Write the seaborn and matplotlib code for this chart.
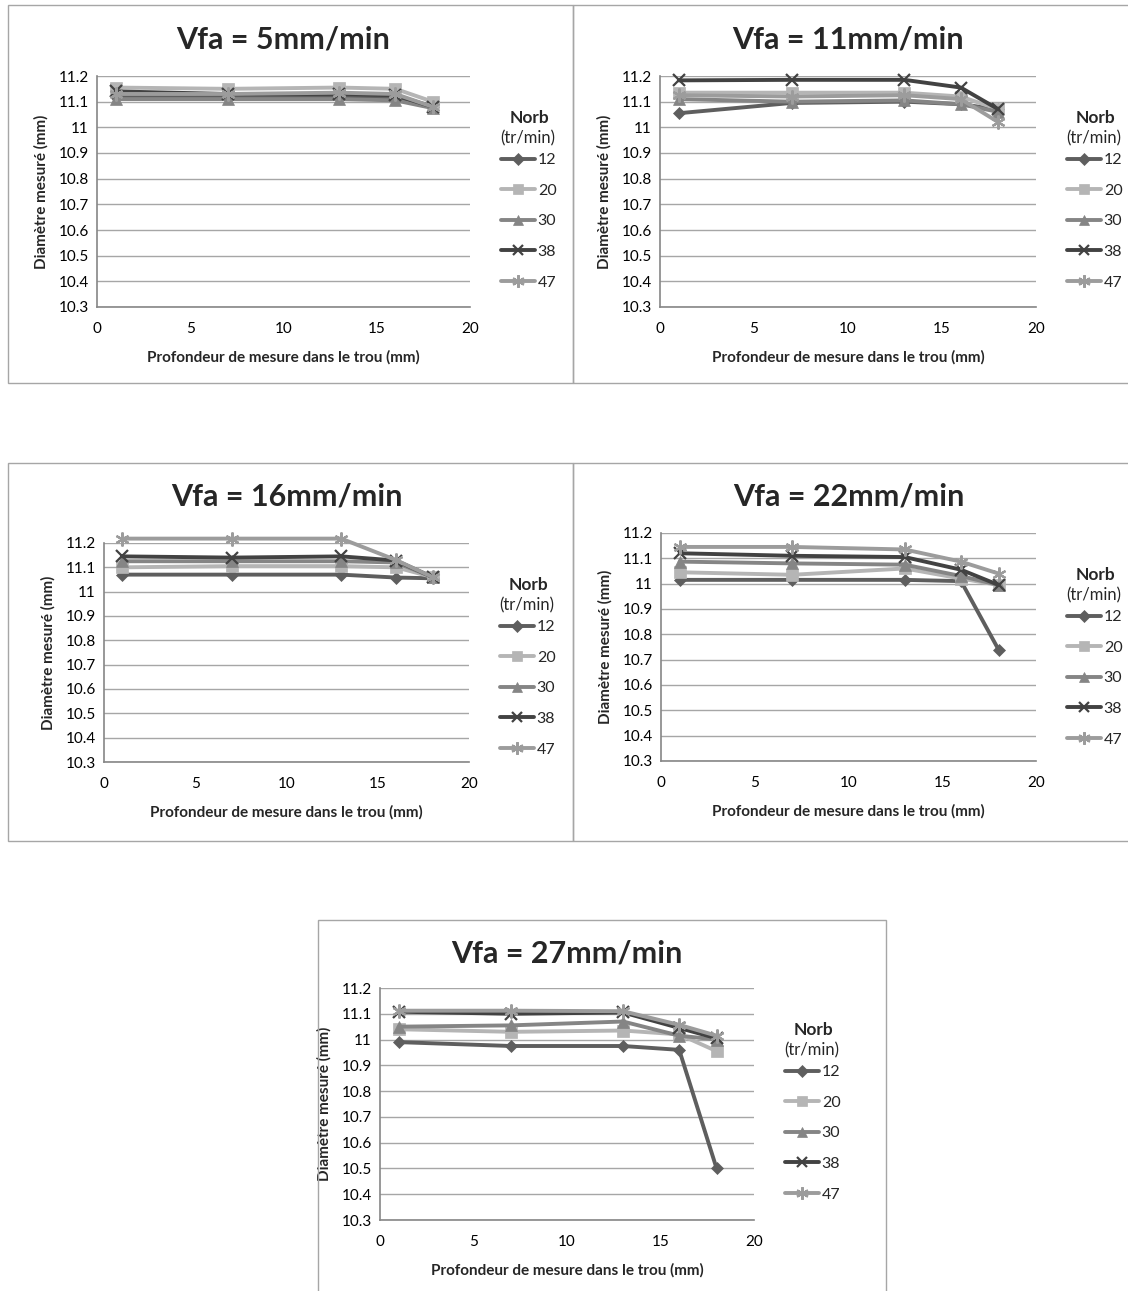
import matplotlib
matplotlib.use("Agg")
import matplotlib.pyplot as plt
import seaborn as sns
import pandas as pd
from matplotlib.patches import Rectangle

# ---------------- data ----------------
depth = [1, 7, 13, 16, 18]
norb_levels = ["12", "20", "30", "38", "47"]
titles = ["Vfa = 5mm/min", "Vfa = 11mm/min", "Vfa = 16mm/min",
          "Vfa = 22mm/min", "Vfa = 27mm/min"]
x_label = "Profondeur de mesure dans le trou (mm)"
y_label = "Diamètre mesuré (mm)"
legend_title_1 = "Norb"
legend_title_2 = "(tr/min)"
x_ticks = [0, 5, 10, 15, 20]
y_ticks = [10.3, 10.4, 10.5, 10.6, 10.7, 10.8, 10.9, 11.0, 11.1, 11.2]
y_tick_labels = ["10.3", "10.4", "10.5", "10.6", "10.7", "10.8", "10.9", "11", "11.1", "11.2"]

# Vfa = 5
v05_n12 = [11.12, 11.12, 11.12, 11.115, 11.08]
v05_n20 = [11.155, 11.15, 11.155, 11.15, 11.10]
v05_n30 = [11.11, 11.11, 11.11, 11.105, 11.075]
v05_n38 = [11.14, 11.13, 11.13, 11.125, 11.08]
v05_n47 = [11.13, 11.13, 11.135, 11.13, 11.08]
# Vfa = 11
v11_n12 = [11.055, 11.095, 11.10, 11.09, 11.07]
v11_n20 = [11.135, 11.135, 11.135, 11.12, 11.07]
v11_n30 = [11.11, 11.10, 11.105, 11.09, 11.06]
v11_n38 = [11.183, 11.185, 11.185, 11.155, 11.07]
v11_n47 = [11.125, 11.12, 11.125, 11.11, 11.02]
# Vfa = 16
v16_n12 = [11.07, 11.07, 11.07, 11.058, 11.055]
v16_n20 = [11.10, 11.105, 11.105, 11.10, 11.06]
v16_n30 = [11.125, 11.125, 11.125, 11.12, 11.06]
v16_n38 = [11.145, 11.14, 11.145, 11.128, 11.06]
v16_n47 = [11.218, 11.218, 11.218, 11.13, 11.06]
# Vfa = 22
v22_n12 = [11.015, 11.015, 11.015, 11.01, 10.74]
v22_n20 = [11.045, 11.035, 11.06, 11.02, 10.995]
v22_n30 = [11.087, 11.08, 11.075, 11.03, 10.995]
v22_n38 = [11.12, 11.11, 11.105, 11.055, 10.995]
v22_n47 = [11.145, 11.145, 11.135, 11.087, 11.04]
# Vfa = 27
v27_n12 = [10.99, 10.975, 10.975, 10.96, 10.50]
v27_n20 = [11.04, 11.03, 11.035, 11.02, 10.955]
v27_n30 = [11.05, 11.055, 11.07, 11.015, 11.0]
v27_n38 = [11.108, 11.10, 11.105, 11.045, 11.005]
v27_n47 = [11.112, 11.112, 11.11, 11.057, 11.015]

panels = [
    [v05_n12, v05_n20, v05_n30, v05_n38, v05_n47],
    [v11_n12, v11_n20, v11_n30, v11_n38, v11_n47],
    [v16_n12, v16_n20, v16_n30, v16_n38, v16_n47],
    [v22_n12, v22_n20, v22_n30, v22_n38, v22_n47],
    [v27_n12, v27_n20, v27_n30, v27_n38, v27_n47],
]

# ---------------- style ----------------
sns.set_style("white")
plt.rcParams["font.family"] = ["Lato", "DejaVu Sans"]

W, H = 1128, 1291
fig = plt.figure(figsize=(W / 100, H / 100), dpi=100)

colors = {"12": "#5e5e5e", "20": "#b5b5b5", "30": "#858585", "38": "#424242", "47": "#9c9c9c"}
markers = {"12": "D", "20": "s", "30": "^", "38": "x", "47": (6, 2, 0)}
msize = {"12": 6.5, "20": 8, "30": 8, "38": 8.5, "47": 10}

# (box left, box top, box right, box bottom, ax left, ax top, ax right, ax bottom)
layout = [
    (8, 5, 573, 383, 97, 76, 470, 307),
    (573, 5, 1132, 383, 660, 76, 1036, 307),
    (8, 463, 573, 841, 104, 543, 469, 762),
    (573, 463, 1132, 841, 661, 533, 1036, 761),
    (318, 920, 886, 1296, 380, 988, 754, 1220),
]


def frect(l, t, r, b):
    return [l / W, 1 - b / H, (r - l) / W, (b - t) / H]


def mew(lvl):
    return 1.6 if lvl in ("38", "47") else 0.5


for idx, (series, lay) in enumerate(zip(panels, layout)):
    bl, bt, br, bb, al, at, ar, ab = lay
    fig.add_artist(Rectangle((bl / W, 1 - bb / H), (br - bl) / W, (bb - bt) / H,
                             transform=fig.transFigure, fill=False,
                             edgecolor="#a6a6a6", lw=1.0))
    ax = fig.add_axes(frect(al, at, ar, ab))
    for lvl, vals in zip(norb_levels, series):
        df = pd.DataFrame({"depth": depth, "diam": vals})
        sns.lineplot(data=df, x="depth", y="diam", color=colors[lvl],
                     marker=markers[lvl], markersize=msize[lvl],
                     markerfacecolor=colors[lvl], markeredgecolor=colors[lvl],
                     markeredgewidth=mew(lvl), lw=2.8, ax=ax, sort=False,
                     solid_joinstyle="round", clip_on=False)

    ax.set_xlim(0, 20)
    ax.set_ylim(10.3, 11.2)
    ax.set_xticks(x_ticks)
    ax.set_xticklabels([str(t) for t in x_ticks])
    ax.set_yticks(y_ticks)
    ax.set_yticklabels(y_tick_labels)
    ax.tick_params(axis="both", length=0, labelsize=11, colors="#000000")
    ax.tick_params(axis="x", pad=11)
    ax.tick_params(axis="y", pad=6)
    ax.yaxis.grid(True, color="#a6a6a6", lw=1.0)
    ax.xaxis.grid(False)
    ax.set_axisbelow(True)
    for s in ("top", "right"):
        ax.spines[s].set_visible(False)
    for s in ("left", "bottom"):
        ax.spines[s].set_color("#868686")
        ax.spines[s].set_linewidth(1.2)
    ax.set_xlabel(x_label, fontsize=11, fontweight="bold", labelpad=10)
    ax.set_ylabel(y_label, fontsize=11, fontweight="bold", labelpad=7)
    fig.text((al + ar) / 2 / W, 1 - (bt + 34) / H, titles[idx], fontsize=22,
             fontweight="bold", ha="center", va="center")

    # legend
    handles = [plt.Line2D([], [], color=colors[l], lw=2.8, marker=markers[l],
                          markersize=msize[l] * 0.9, markerfacecolor=colors[l],
                          markeredgecolor=colors[l], markeredgewidth=mew(l))
               for l in norb_levels]
    lx = ar + 31
    ly = at + 77
    fig.text((lx + 28) / W, 1 - (at + 42) / H, legend_title_1, fontsize=12.5,
             fontweight="bold", ha="center", va="center")
    fig.text((lx + 27) / W, 1 - (at + 62) / H, legend_title_2, fontsize=12,
             ha="center", va="center")
    fig.legend(handles=handles, labels=norb_levels, loc="upper left",
               bbox_to_anchor=(lx / W, 1 - ly / H), frameon=False,
               fontsize=11.5, handlelength=2.1, handletextpad=0.2,
               labelspacing=1.03, borderpad=0, borderaxespad=0)

fig.savefig("out.png", dpi=100)
